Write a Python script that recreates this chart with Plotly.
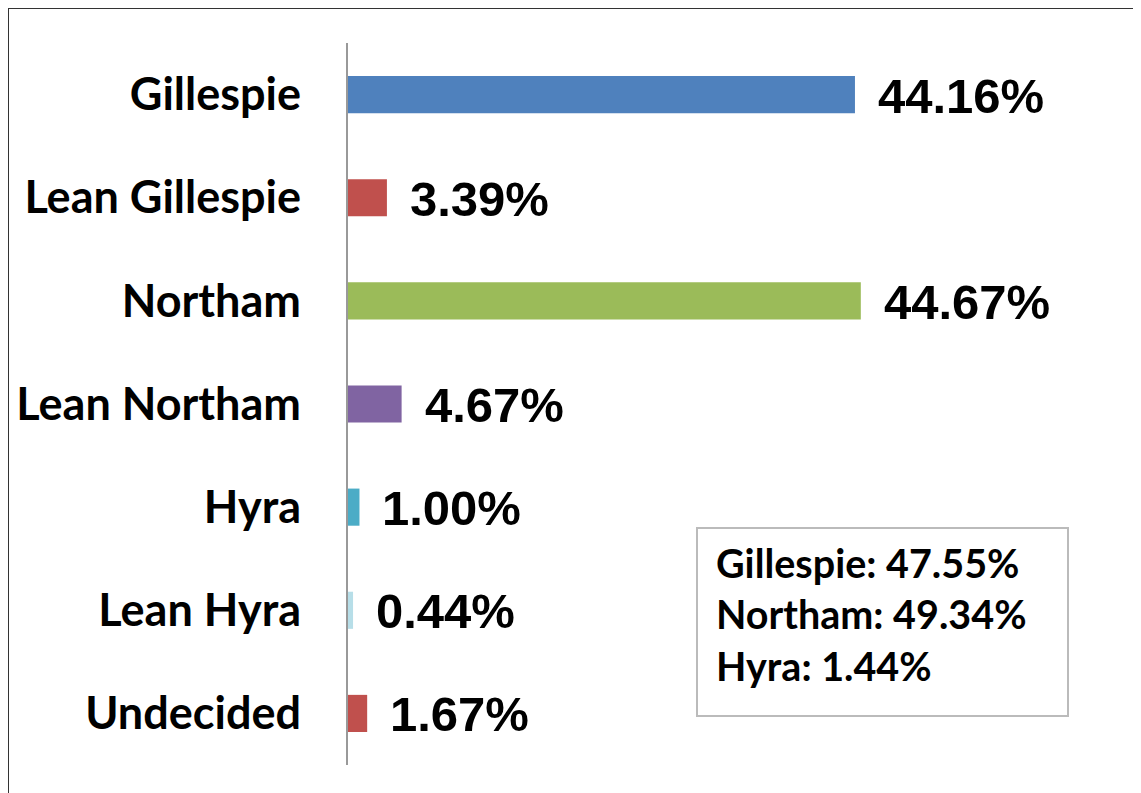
import plotly.graph_objects as go

categories = ["Gillespie", "Lean Gillespie", "Northam", "Lean Northam", "Hyra", "Lean Hyra", "Undecided"]
values = [44.16, 3.39, 44.67, 4.67, 1.00, 0.44, 1.67]
bar_colors = ["#4F81BD", "#C0504D", "#9BBB59", "#8064A2", "#4BACC6", "#B7DEE8", "#C0504D"]

summary_names = ["Gillespie", "Northam", "Hyra"]
summary_values = [47.55, 49.34, 1.44]

# page has an 8px body margin; compensate so page coordinates match
OFF = 8
W, H = 1141 - OFF, 793 - OFF
ML, MR, MT, MB = 348 - OFF, 41, 43 - OFF, 28
PW, PH = W - ML - MR, H - MT - MB


def px_x(p):
    return (p - OFF - ML) / PW


def px_y(p):
    return 1 - (p - OFF - MT) / PH


fig = go.Figure()
fig.add_trace(go.Bar(
    x=values, y=categories, orientation="h",
    marker=dict(color=bar_colors, line=dict(width=0)),
    width=0.36, hoverinfo="skip",
))

for c, v in zip(categories, values):
    fig.add_annotation(
        x=v, y=c, xref="x", yref="y", text=f"{v:.2f}%", showarrow=False,
        xanchor="left", yanchor="middle", xshift=21, yshift=-1,
        font=dict(family="Liberation Sans, Arial", size=49, color="#000000", weight="bold"),
    )

summary_text = "<br>".join(f"{n}: {v:.2f}%" for n, v in zip(summary_names, summary_values))
fig.add_annotation(
    x=px_x(714), y=px_y(537), xref="paper", yref="paper", text=summary_text,
    showarrow=False, xanchor="left", yanchor="top", align="left",
    font=dict(family="Lato", size=39.5, color="#000000", weight="bold"),
)

shapes = [
    dict(type="rect", xref="paper", yref="paper", x0=px_x(697), x1=px_x(1068),
         y0=px_y(716), y1=px_y(528), line=dict(color="#BBBBBB", width=2), fillcolor="rgba(0,0,0,0)"),
    dict(type="line", xref="paper", yref="paper", x0=px_x(8), x1=px_x(8),
         y0=px_y(8), y1=px_y(800), line=dict(color="#333333", width=2)),
    dict(type="line", xref="paper", yref="paper", x0=px_x(8), x1=px_x(1150),
         y0=px_y(8), y1=px_y(8), line=dict(color="#333333", width=2)),
]

fig.update_layout(
    width=W, height=H,
    margin=dict(l=ML, r=MR, t=MT, b=MB, autoexpand=False),
    paper_bgcolor="white", plot_bgcolor="white",
    showlegend=False, shapes=shapes,
    xaxis=dict(range=[0, PW / 11.48], visible=False, fixedrange=True, automargin=False),
    yaxis=dict(
        autorange="reversed", showline=True, linecolor="#999999", linewidth=2,
        showgrid=False, zeroline=False, ticks="", ticklabelstandoff=36, automargin=False,
        tickfont=dict(family="Lato", size=45, color="#000000", weight="bold"),
    ),
)

fig.write_html("out.html")
